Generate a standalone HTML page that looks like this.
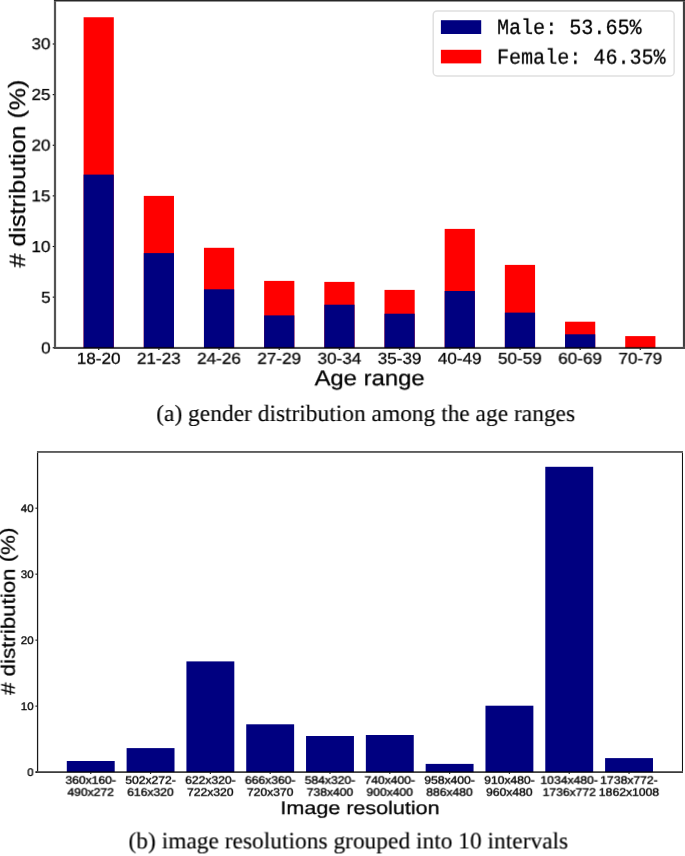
<!DOCTYPE html>
<html><head><meta charset="utf-8"><title>Dataset statistics</title>
<style>html,body{margin:0;padding:0;background:#fff;}svg{display:block;} text{will-change:transform;text-rendering:geometricPrecision;}</style></head>
<body><svg width="685" height="856" viewBox="0 0 685 856">
<rect width="685" height="856" fill="#fff"/>
<rect x="83.60" y="17.25" width="30.20" height="330.65" fill="#ff0000"/>
<rect x="83.60" y="174.60" width="30.20" height="173.30" fill="#000080"/>
<rect x="143.78" y="195.90" width="30.20" height="152.00" fill="#ff0000"/>
<rect x="143.78" y="253.10" width="30.20" height="94.80" fill="#000080"/>
<rect x="203.96" y="247.80" width="30.20" height="100.10" fill="#ff0000"/>
<rect x="203.96" y="289.30" width="30.20" height="58.60" fill="#000080"/>
<rect x="264.14" y="280.90" width="30.20" height="67.00" fill="#ff0000"/>
<rect x="264.14" y="315.40" width="30.20" height="32.50" fill="#000080"/>
<rect x="324.32" y="281.90" width="30.20" height="66.00" fill="#ff0000"/>
<rect x="324.32" y="304.70" width="30.20" height="43.20" fill="#000080"/>
<rect x="384.50" y="289.90" width="30.20" height="58.00" fill="#ff0000"/>
<rect x="384.50" y="313.70" width="30.20" height="34.20" fill="#000080"/>
<rect x="444.68" y="228.90" width="30.20" height="119.00" fill="#ff0000"/>
<rect x="444.68" y="291.00" width="30.20" height="56.90" fill="#000080"/>
<rect x="504.86" y="264.90" width="30.20" height="83.00" fill="#ff0000"/>
<rect x="504.86" y="312.60" width="30.20" height="35.30" fill="#000080"/>
<rect x="565.04" y="321.70" width="30.20" height="26.20" fill="#ff0000"/>
<rect x="565.04" y="334.30" width="30.20" height="13.60" fill="#000080"/>
<rect x="625.22" y="336.10" width="30.20" height="11.80" fill="#ff0000"/>
<rect x="52.70" y="347.20" width="1.50" height="1.10" fill="#000" fill-opacity="0.95"/>
<text transform="translate(50.60,353.45) rotate(0.01) scale(1.0740,1)" font-size="15.9" text-anchor="end" font-family='"Liberation Sans", sans-serif' fill="#000" stroke="#000" stroke-width="0.25">0</text>
<rect x="52.70" y="296.57" width="1.50" height="1.10" fill="#000" fill-opacity="0.95"/>
<text transform="translate(50.60,302.74) rotate(0.01) scale(1.0740,1)" font-size="15.9" text-anchor="end" font-family='"Liberation Sans", sans-serif' fill="#000" stroke="#000" stroke-width="0.25">5</text>
<rect x="52.70" y="245.95" width="1.50" height="1.10" fill="#000" fill-opacity="0.95"/>
<text transform="translate(50.60,252.03) rotate(0.01) scale(1.0740,1)" font-size="15.9" text-anchor="end" font-family='"Liberation Sans", sans-serif' fill="#000" stroke="#000" stroke-width="0.25">10</text>
<rect x="52.70" y="195.32" width="1.50" height="1.10" fill="#000" fill-opacity="0.95"/>
<text transform="translate(50.60,201.32) rotate(0.01) scale(1.0740,1)" font-size="15.9" text-anchor="end" font-family='"Liberation Sans", sans-serif' fill="#000" stroke="#000" stroke-width="0.25">15</text>
<rect x="52.70" y="144.70" width="1.50" height="1.10" fill="#000" fill-opacity="0.95"/>
<text transform="translate(50.60,150.62) rotate(0.01) scale(1.0740,1)" font-size="15.9" text-anchor="end" font-family='"Liberation Sans", sans-serif' fill="#000" stroke="#000" stroke-width="0.25">20</text>
<rect x="52.70" y="94.08" width="1.50" height="1.10" fill="#000" fill-opacity="0.95"/>
<text transform="translate(50.60,99.91) rotate(0.01) scale(1.0740,1)" font-size="15.9" text-anchor="end" font-family='"Liberation Sans", sans-serif' fill="#000" stroke="#000" stroke-width="0.25">25</text>
<rect x="52.70" y="43.45" width="1.50" height="1.10" fill="#000" fill-opacity="0.95"/>
<text transform="translate(50.60,49.20) rotate(0.01) scale(1.0740,1)" font-size="15.9" text-anchor="end" font-family='"Liberation Sans", sans-serif' fill="#000" stroke="#000" stroke-width="0.25">30</text>
<rect x="98.00" y="348.60" width="1.40" height="1.30" fill="#000" fill-opacity="0.9"/>
<text transform="translate(98.70,363.80) rotate(0.01) scale(1.0800,1)" font-size="15.9" text-anchor="middle" font-family='"Liberation Sans", sans-serif' fill="#000" stroke="#000" stroke-width="0.25">18-20</text>
<rect x="158.18" y="348.60" width="1.40" height="1.30" fill="#000" fill-opacity="0.9"/>
<text transform="translate(158.88,363.80) rotate(0.01) scale(1.0800,1)" font-size="15.9" text-anchor="middle" font-family='"Liberation Sans", sans-serif' fill="#000" stroke="#000" stroke-width="0.25">21-23</text>
<rect x="218.36" y="348.60" width="1.40" height="1.30" fill="#000" fill-opacity="0.9"/>
<text transform="translate(219.06,363.80) rotate(0.01) scale(1.0800,1)" font-size="15.9" text-anchor="middle" font-family='"Liberation Sans", sans-serif' fill="#000" stroke="#000" stroke-width="0.25">24-26</text>
<rect x="278.54" y="348.60" width="1.40" height="1.30" fill="#000" fill-opacity="0.9"/>
<text transform="translate(279.24,363.80) rotate(0.01) scale(1.0800,1)" font-size="15.9" text-anchor="middle" font-family='"Liberation Sans", sans-serif' fill="#000" stroke="#000" stroke-width="0.25">27-29</text>
<rect x="338.72" y="348.60" width="1.40" height="1.30" fill="#000" fill-opacity="0.9"/>
<text transform="translate(339.42,363.80) rotate(0.01) scale(1.0800,1)" font-size="15.9" text-anchor="middle" font-family='"Liberation Sans", sans-serif' fill="#000" stroke="#000" stroke-width="0.25">30-34</text>
<rect x="398.90" y="348.60" width="1.40" height="1.30" fill="#000" fill-opacity="0.9"/>
<text transform="translate(399.60,363.80) rotate(0.01) scale(1.0800,1)" font-size="15.9" text-anchor="middle" font-family='"Liberation Sans", sans-serif' fill="#000" stroke="#000" stroke-width="0.25">35-39</text>
<rect x="459.08" y="348.60" width="1.40" height="1.30" fill="#000" fill-opacity="0.9"/>
<text transform="translate(459.78,363.80) rotate(0.01) scale(1.0800,1)" font-size="15.9" text-anchor="middle" font-family='"Liberation Sans", sans-serif' fill="#000" stroke="#000" stroke-width="0.25">40-49</text>
<rect x="519.26" y="348.60" width="1.40" height="1.30" fill="#000" fill-opacity="0.9"/>
<text transform="translate(519.96,363.80) rotate(0.01) scale(1.0800,1)" font-size="15.9" text-anchor="middle" font-family='"Liberation Sans", sans-serif' fill="#000" stroke="#000" stroke-width="0.25">50-59</text>
<rect x="579.44" y="348.60" width="1.40" height="1.30" fill="#000" fill-opacity="0.9"/>
<text transform="translate(580.14,363.80) rotate(0.01) scale(1.0800,1)" font-size="15.9" text-anchor="middle" font-family='"Liberation Sans", sans-serif' fill="#000" stroke="#000" stroke-width="0.25">60-69</text>
<rect x="639.62" y="348.60" width="1.40" height="1.30" fill="#000" fill-opacity="0.9"/>
<text transform="translate(640.32,363.80) rotate(0.01) scale(1.0800,1)" font-size="15.9" text-anchor="middle" font-family='"Liberation Sans", sans-serif' fill="#000" stroke="#000" stroke-width="0.25">70-79</text>
<text transform="translate(369.65,385.30) rotate(0.01) scale(1.1100,1)" font-size="21.5" text-anchor="middle" font-family='"Liberation Sans", sans-serif' fill="#000" stroke="#000" stroke-width="0.25">Age range</text>
<text transform="translate(25.00,173.55) rotate(-89.99) scale(1.1280,1)" font-size="22.2" text-anchor="middle" font-family='"Liberation Sans", sans-serif' fill="#000" stroke="#000" stroke-width="0.25">#&#160;distribution&#160;<tspan dy="-1.4">(</tspan><tspan dy="1.4">%</tspan><tspan dy="-1.4">)</tspan></text>
<rect x="53.90" y="0.00" width="631.10" height="1.50" fill="#000" fill-opacity="0.85"/>
<rect x="53.90" y="1.50" width="2.20" height="345.40" fill="#000" fill-opacity="0.67"/>
<rect x="682.90" y="1.50" width="2.10" height="345.40" fill="#000" fill-opacity="0.75"/>
<rect x="53.90" y="346.90" width="631.10" height="2.10" fill="#000" fill-opacity="0.7"/>
<rect x="433.2" y="10.9" width="240.95" height="65.00" rx="4" ry="4" fill="#fff" fill-opacity="0.8" stroke="#e0e0e0" stroke-width="1.5"/>
<rect x="440.9" y="20.2" width="40.3" height="13.8" fill="#000080"/>
<rect x="440.9" y="49.8" width="40.3" height="13.6" fill="#ff0000"/>
<text transform="translate(497.00,33.90) rotate(0.01) scale(0.9340,1)" font-size="21.5" text-anchor="start" font-family='"Liberation Mono", monospace' fill="#000" stroke="#000" stroke-width="0.25">Male:&#160;53.65%</text>
<text transform="translate(497.00,63.70) rotate(0.01) scale(0.9340,1)" font-size="21.5" text-anchor="start" font-family='"Liberation Mono", monospace' fill="#000" stroke="#000" stroke-width="0.25">Female:&#160;46.35%</text>
<text transform="translate(156.30,421.00) rotate(0.01)" font-size="23.43" text-anchor="start" font-family='"Liberation Serif", serif' fill="#000" stroke="#000" stroke-width="0.12">(a) gender distribution among the age ranges</text>
<rect x="66.80" y="761.00" width="47.90" height="11.10" fill="#000080"/>
<rect x="126.61" y="748.10" width="47.90" height="24.00" fill="#000080"/>
<rect x="186.42" y="661.40" width="47.90" height="110.70" fill="#000080"/>
<rect x="246.23" y="724.30" width="47.90" height="47.80" fill="#000080"/>
<rect x="306.04" y="736.00" width="47.90" height="36.10" fill="#000080"/>
<rect x="365.85" y="735.00" width="47.90" height="37.10" fill="#000080"/>
<rect x="425.66" y="763.90" width="47.90" height="8.20" fill="#000080"/>
<rect x="485.47" y="705.70" width="47.90" height="66.40" fill="#000080"/>
<rect x="545.28" y="466.80" width="47.90" height="305.30" fill="#000080"/>
<rect x="605.09" y="758.10" width="47.90" height="14.00" fill="#000080"/>
<rect x="35.40" y="771.50" width="1.60" height="1.20" fill="#000" fill-opacity="0.8"/>
<text transform="translate(33.60,776.00) rotate(0.01) scale(1.0400,1)" font-size="11.0" text-anchor="end" font-family='"Liberation Sans", sans-serif' fill="#000" stroke="#000" stroke-width="0.35">0</text>
<rect x="35.40" y="705.52" width="1.60" height="1.20" fill="#000" fill-opacity="0.8"/>
<text transform="translate(33.60,710.02) rotate(0.01) scale(1.0400,1)" font-size="11.0" text-anchor="end" font-family='"Liberation Sans", sans-serif' fill="#000" stroke="#000" stroke-width="0.35">10</text>
<rect x="35.40" y="639.55" width="1.60" height="1.20" fill="#000" fill-opacity="0.8"/>
<text transform="translate(33.60,644.05) rotate(0.01) scale(1.0400,1)" font-size="11.0" text-anchor="end" font-family='"Liberation Sans", sans-serif' fill="#000" stroke="#000" stroke-width="0.35">20</text>
<rect x="35.40" y="573.57" width="1.60" height="1.20" fill="#000" fill-opacity="0.8"/>
<text transform="translate(33.60,578.07) rotate(0.01) scale(1.0400,1)" font-size="11.0" text-anchor="end" font-family='"Liberation Sans", sans-serif' fill="#000" stroke="#000" stroke-width="0.35">30</text>
<rect x="35.40" y="507.60" width="1.60" height="1.20" fill="#000" fill-opacity="0.8"/>
<text transform="translate(33.60,512.10) rotate(0.01) scale(1.0400,1)" font-size="11.0" text-anchor="end" font-family='"Liberation Sans", sans-serif' fill="#000" stroke="#000" stroke-width="0.35">40</text>
<rect x="36.95" y="451.00" width="646.05" height="1.90" fill="#000" fill-opacity="0.64"/>
<rect x="36.95" y="452.90" width="1.25" height="318.40" fill="#000" fill-opacity="0.9"/>
<rect x="681.95" y="452.90" width="1.05" height="318.40" fill="#000" fill-opacity="0.93"/>
<rect x="35.60" y="771.30" width="647.40" height="1.60" fill="#000" fill-opacity="0.85"/>
<rect x="90.15" y="772.50" width="1.20" height="1.50" fill="#000" fill-opacity="0.8"/>
<text transform="translate(90.75,783.80) rotate(0.01) scale(1.1050,1)" font-size="11.0" text-anchor="middle" font-family='"Liberation Sans", sans-serif' fill="#000" stroke="#000" stroke-width="0.35">360x160-</text>
<text transform="translate(90.75,795.80) rotate(0.01) scale(1.1050,1)" font-size="11.0" text-anchor="middle" font-family='"Liberation Sans", sans-serif' fill="#000" stroke="#000" stroke-width="0.35">490x272</text>
<rect x="149.96" y="772.50" width="1.20" height="1.50" fill="#000" fill-opacity="0.8"/>
<text transform="translate(150.56,783.80) rotate(0.01) scale(1.1050,1)" font-size="11.0" text-anchor="middle" font-family='"Liberation Sans", sans-serif' fill="#000" stroke="#000" stroke-width="0.35">502x272-</text>
<text transform="translate(150.56,795.80) rotate(0.01) scale(1.1050,1)" font-size="11.0" text-anchor="middle" font-family='"Liberation Sans", sans-serif' fill="#000" stroke="#000" stroke-width="0.35">616x320</text>
<rect x="209.77" y="772.50" width="1.20" height="1.50" fill="#000" fill-opacity="0.8"/>
<text transform="translate(210.37,783.80) rotate(0.01) scale(1.1050,1)" font-size="11.0" text-anchor="middle" font-family='"Liberation Sans", sans-serif' fill="#000" stroke="#000" stroke-width="0.35">622x320-</text>
<text transform="translate(210.37,795.80) rotate(0.01) scale(1.1050,1)" font-size="11.0" text-anchor="middle" font-family='"Liberation Sans", sans-serif' fill="#000" stroke="#000" stroke-width="0.35">722x320</text>
<rect x="269.58" y="772.50" width="1.20" height="1.50" fill="#000" fill-opacity="0.8"/>
<text transform="translate(270.18,783.80) rotate(0.01) scale(1.1050,1)" font-size="11.0" text-anchor="middle" font-family='"Liberation Sans", sans-serif' fill="#000" stroke="#000" stroke-width="0.35">666x360-</text>
<text transform="translate(270.18,795.80) rotate(0.01) scale(1.1050,1)" font-size="11.0" text-anchor="middle" font-family='"Liberation Sans", sans-serif' fill="#000" stroke="#000" stroke-width="0.35">720x370</text>
<rect x="329.39" y="772.50" width="1.20" height="1.50" fill="#000" fill-opacity="0.8"/>
<text transform="translate(329.99,783.80) rotate(0.01) scale(1.1050,1)" font-size="11.0" text-anchor="middle" font-family='"Liberation Sans", sans-serif' fill="#000" stroke="#000" stroke-width="0.35">584x320-</text>
<text transform="translate(329.99,795.80) rotate(0.01) scale(1.1050,1)" font-size="11.0" text-anchor="middle" font-family='"Liberation Sans", sans-serif' fill="#000" stroke="#000" stroke-width="0.35">738x400</text>
<rect x="389.20" y="772.50" width="1.20" height="1.50" fill="#000" fill-opacity="0.8"/>
<text transform="translate(389.80,783.80) rotate(0.01) scale(1.1050,1)" font-size="11.0" text-anchor="middle" font-family='"Liberation Sans", sans-serif' fill="#000" stroke="#000" stroke-width="0.35">740x400-</text>
<text transform="translate(389.80,795.80) rotate(0.01) scale(1.1050,1)" font-size="11.0" text-anchor="middle" font-family='"Liberation Sans", sans-serif' fill="#000" stroke="#000" stroke-width="0.35">900x400</text>
<rect x="449.01" y="772.50" width="1.20" height="1.50" fill="#000" fill-opacity="0.8"/>
<text transform="translate(449.61,783.80) rotate(0.01) scale(1.1050,1)" font-size="11.0" text-anchor="middle" font-family='"Liberation Sans", sans-serif' fill="#000" stroke="#000" stroke-width="0.35">958x400-</text>
<text transform="translate(449.61,795.80) rotate(0.01) scale(1.1050,1)" font-size="11.0" text-anchor="middle" font-family='"Liberation Sans", sans-serif' fill="#000" stroke="#000" stroke-width="0.35">886x480</text>
<rect x="508.82" y="772.50" width="1.20" height="1.50" fill="#000" fill-opacity="0.8"/>
<text transform="translate(509.42,783.80) rotate(0.01) scale(1.1050,1)" font-size="11.0" text-anchor="middle" font-family='"Liberation Sans", sans-serif' fill="#000" stroke="#000" stroke-width="0.35">910x480-</text>
<text transform="translate(509.42,795.80) rotate(0.01) scale(1.1050,1)" font-size="11.0" text-anchor="middle" font-family='"Liberation Sans", sans-serif' fill="#000" stroke="#000" stroke-width="0.35">960x480</text>
<rect x="568.63" y="772.50" width="1.20" height="1.50" fill="#000" fill-opacity="0.8"/>
<text transform="translate(569.23,783.80) rotate(0.01) scale(1.1050,1)" font-size="11.0" text-anchor="middle" font-family='"Liberation Sans", sans-serif' fill="#000" stroke="#000" stroke-width="0.35">1034x480-</text>
<text transform="translate(569.23,795.80) rotate(0.01) scale(1.1050,1)" font-size="11.0" text-anchor="middle" font-family='"Liberation Sans", sans-serif' fill="#000" stroke="#000" stroke-width="0.35">1736x772</text>
<rect x="628.44" y="772.50" width="1.20" height="1.50" fill="#000" fill-opacity="0.8"/>
<text transform="translate(629.04,783.80) rotate(0.01) scale(1.1050,1)" font-size="11.0" text-anchor="middle" font-family='"Liberation Sans", sans-serif' fill="#000" stroke="#000" stroke-width="0.35">1738x772-</text>
<text transform="translate(629.04,795.80) rotate(0.01) scale(1.1050,1)" font-size="11.0" text-anchor="middle" font-family='"Liberation Sans", sans-serif' fill="#000" stroke="#000" stroke-width="0.35">1862x1008</text>
<text transform="translate(360.00,814.10) rotate(0.01) scale(1.1790,1)" font-size="18.3" text-anchor="middle" font-family='"Liberation Sans", sans-serif' fill="#000" stroke="#000" stroke-width="0.25">Image resolution</text>
<text transform="translate(14.70,611.25) rotate(-89.99) scale(1.1440,1)" font-size="19.5" text-anchor="middle" font-family='"Liberation Sans", sans-serif' fill="#000" stroke="#000" stroke-width="0.25">#&#160;distribution&#160;<tspan dy="-1.2">(</tspan><tspan dy="1.2">%</tspan><tspan dy="-1.2">)</tspan></text>
<text transform="translate(128.50,848.40) rotate(0.01)" font-size="23.43" text-anchor="start" font-family='"Liberation Serif", serif' fill="#000" stroke="#000" stroke-width="0.12">(b) image resolutions grouped into 10 intervals</text>
</svg></body></html>
